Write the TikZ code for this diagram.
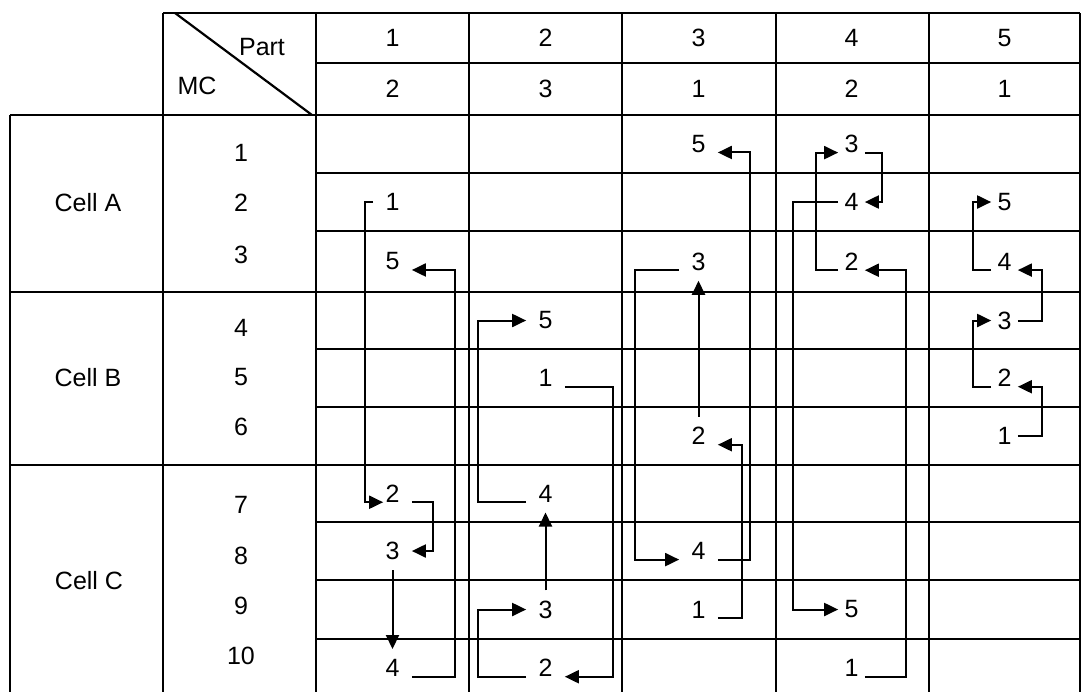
\documentclass[tikz,border=0pt]{standalone}
\usepackage{fontspec}
\setmainfont{Liberation Sans}
\usetikzlibrary{arrows.meta}
\tikzset{
    rowline/.style={line width=1.1pt, draw=black},
    colline/.style={line width=1.4pt, draw=black},
    headtext/.style={font=\fontsize{12.5}{14}\selectfont, inner sep=0pt},
    seqnum/.style={font=\fontsize{12.5}{14}\selectfont, inner xsep=6pt, inner ysep=5pt},
    flow/.style={-{Triangle[length=7pt,width=6.5pt]}, line width=1pt, draw=black}
}

\begin{document}
\begin{tikzpicture}[x=0.5pt, y=-0.5pt]
    \useasboundingbox (0,0) rectangle (1081,692);

    % table grid
    \draw[rowline] (163,13) -- (1080,13);
    \draw[rowline] (316,63) -- (1080,63);
    \foreach \y in {115,292,465} \draw[rowline] (10,\y) -- (1080,\y);
    \foreach \y in {173,231,349,407,522,580,639} \draw[rowline] (316,\y) -- (1080,\y);
    \draw[colline] (10,115) -- (10,692);
    \foreach \x in {163,316,469,622,776,929,1080} \draw[colline] (\x,13) -- (\x,692);
    \draw[rowline] (175,13) -- (312,115);

    % headings
    \node[headtext] (part) at (262,47) {Part};
    \node[headtext] (mc) at (197,86) {MC};
    \foreach \p/\m in {1/2,2/3,3/1,4/2,5/1} {
        \node[headtext] (head\p) at (239.5+153*\p,38) {\p};
        \node[headtext] (mach\p) at (239.5+153*\p,89) {\m};
    }
    \node[headtext] (cellA) at (88,203) {Cell A};
    \node[headtext] (cellB) at (88,378) {Cell B};
    \node[headtext] (cellC) at (89,581) {Cell C};
    \foreach \m/\y in {1/153,2/203,3/255,4/328,5/377,6/427,7/505,8/556,9/606,10/656}
        \node[headtext] (mc\m) at (241,\y) {\m};

    % operation sequence of each part: part/step/row centre
    \foreach \p/\s/\y in {1/1/202,1/2/493.5,1/3/551,1/4/668,1/5/261.5,
                          2/1/378,2/2/668,2/3/609.5,2/4/493.5,2/5/320.5,
                          3/1/609.5,3/2/436,3/3/261.5,3/4/551,3/5/144}
        \node[seqnum] (p\p-\s) at (239.5+153*\p,\y) {\s};
    \foreach \p/\s/\y in {4/1/668,4/2/261.5,4/3/144,4/4/202,4/5/609.5,
                          5/1/436,5/2/378,5/3/320.5,5/4/261.5,5/5/202}
        \node[seqnum, inner xsep=3pt] (p\p-\s) at (239.5+153*\p,\y) {\s};

    % part 1
    \draw[flow] (p1-1.west) -- ++(-8.5,0) |- ([xshift=5pt]p1-2.base west);
    \draw[flow] (p1-2.base east) -- ++(21.5,0) |- (p1-3.east);
    \draw[flow] (p1-3.south) -- (p1-4.north);
    \draw[flow] (p1-4.base east) -- ++(43.5,0) |- (p1-5.base east);
    % part 2
    \draw[flow] (p2-1.base east) -- ++(48.5,0) |- (p2-2.base east);
    \draw[flow] (p2-2.base west) -- ++(-48.5,0) |- (p2-3.west);
    \draw[flow] (p2-3.north) -- (p2-4.south);
    \draw[flow] (p2-4.base west) -- ++(-48.5,0) |- (p2-5.west);
    % part 3
    \draw[flow] (p3-1.base east) -- ++(24.5,0) |- (p3-2.base east);
    \draw[flow] (p3-2.north) -- (p3-3.south);
    \draw[flow] (p3-3.base west) -- ++(-44.5,0) |- (p3-4.base west);
    \draw[flow] (p3-4.base east) -- ++(32.5,0) |- (p3-5.base east);
    % part 4
    \draw[flow] (p4-1.base east) -- ++(41.5,0) |- (p4-2.base east);
    \draw[flow] (p4-2.base west) -- ++(-22.5,0) |- (p4-3.base west);
    \draw[flow] (p4-3.base east) -- ++(17.5,0) |- (p4-4.east);
    \draw[flow] (p4-4.west) -- ++(-45.5,0) |- (p4-5.west);
    % part 5
    \draw[flow] (p5-1.east) -- ++(24.5,0) |- (p5-2.base east);
    \draw[flow] (p5-2.base west) -- ++(-18.5,0) |- (p5-3.west);
    \draw[flow] (p5-3.east) -- ++(24.5,0) |- (p5-4.base east);
    \draw[flow] (p5-4.base west) -- ++(-18.5,0) |- (p5-5.west);
\end{tikzpicture}
\end{document}
